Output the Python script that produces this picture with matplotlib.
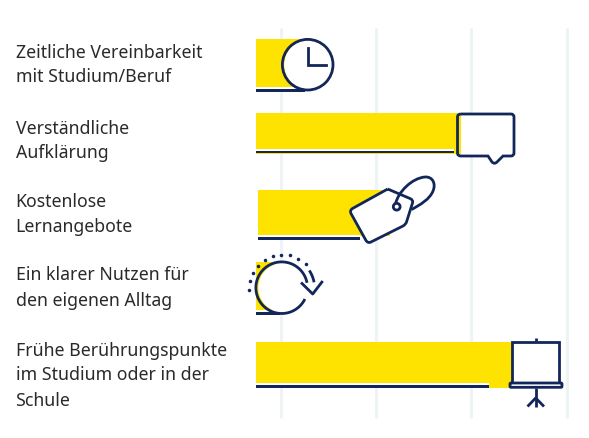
import numpy as np
import matplotlib
matplotlib.use('Agg')
import matplotlib.pyplot as plt
from matplotlib.path import Path
from matplotlib.patches import PathPatch, Circle, FancyBboxPatch, Rectangle

# Data
labels = ['Zeitliche Vereinbarkeit\nmit Studium/Beruf',
          'Verständliche\nAufklärung',
          'Kostenlose\nLernangebote',
          'Ein klarer Nutzen für\nden eigenen Alltag',
          'Frühe Berührungspunkte\nim Studium oder in der\nSchule']
bar_values = [9.3, 43.0, 27.7, 4.0, 53.7]
bar_starts = [0.0, 0.0, 0.4, 0.0, 0.0]
line_values = [10.3, 41.5, 21.4, 5.0, 48.9]
grid_values = [5.2, 25.2, 45.2, 65.2]

# Layout in pixels
W, H = 589, 438
X0 = 256
PX = 4.765
row_top = [39, 113, 189.5, 262, 342]
row_bot = [92, 154, 236, 315, 388]
row_line = [90.5, 152, 238.5, 313.5, 386.5]
label_y = [65, 141, 214.5, 288, 375.5]

YELLOW = '#FFE300'
NAVY = '#12265A'
GRID = '#EEF3F6'
TEXT = '#2A2A2A'
LW = 2.0

plt.rcParams['font.family'] = ['Noto Sans', 'DejaVu Sans']

fig = plt.figure(figsize=(W / 100, H / 100), dpi=100)
ax = fig.add_axes([0, 0, 1, 1])
ax.set_xlim(-X0 / PX, (W - X0) / PX)
ax.set_ylim(H, 0)
ax.axis('off')

# Grid
ax.vlines(grid_values, 28, 418, color=GRID, lw=2.2, zorder=1)

# Bars and the thin lines under them
for i in range(len(labels)):
    c = (row_top[i] + row_bot[i]) / 2
    ax.barh(c, bar_values[i], left=bar_starts[i], height=row_bot[i] - row_top[i],
            color=YELLOW, zorder=2)
    ax.barh(row_line[i] - 2, line_values[i], left=bar_starts[i], height=2.5,
            color='white', zorder=3)
    ax.barh(row_line[i], line_values[i], left=bar_starts[i], height=2.5,
            color=NAVY, zorder=3)
    ax.text(15.5 / PX - X0 / PX, label_y[i], labels[i], ha='left', va='center',
            fontsize=12.75, color=TEXT, linespacing=1.5, zorder=6)

# Icons, overlay in pixel coordinates
ic = fig.add_axes([0, 0, 1, 1], facecolor='none')
ic.set_xlim(0, W)
ic.set_ylim(H, 0)
ic.axis('off')


def stroke(xs, ys, z=6):
    ic.plot(xs, ys, color=NAVY, lw=LW, solid_capstyle='butt', solid_joinstyle='round', zorder=z)


# clock
ic.add_patch(Circle((309.2, 64.7), 25, fc='white', ec='none', zorder=4))
ic.add_patch(Circle((307.7, 64.7), 25.3, fc='none', ec=NAVY, lw=LW, zorder=5))
ic.plot([307.5, 307.5, 326], [48, 64.5, 64.5], color=NAVY, lw=LW, solid_joinstyle='miter', zorder=6)

# speech bubble
bub = [(461, 114), (511, 114), (514, 114), (514, 117), (514, 153), (514, 156), (511, 156),
       (503, 156), (497, 162), (494.5, 164.5), (492, 162), (488, 156), (461, 156), (457.5, 156),
       (457.5, 153), (457.5, 117), (457.5, 114), (461, 114)]
bub_codes = [Path.MOVETO, Path.LINETO, Path.CURVE3, Path.CURVE3, Path.LINETO, Path.CURVE3, Path.CURVE3,
             Path.LINETO, Path.LINETO, Path.CURVE3, Path.CURVE3, Path.LINETO, Path.LINETO, Path.CURVE3,
             Path.CURVE3, Path.LINETO, Path.CURVE3, Path.CURVE3]
ic.add_patch(Rectangle((461, 115), 52, 40, fc='white', ec='none', zorder=4))
ic.add_patch(PathPatch(Path(bub, bub_codes), fc='none', ec=NAVY, lw=LW, zorder=5))

# price tag
tag = [(387.7, 189), (410, 198.5), (413.5, 200), (412.5, 203), (406.5, 222), (405.7, 224.5), (403, 226),
       (371, 242), (368, 243.5), (366, 240.5), (351, 213.5), (349.5, 210.5), (352.5, 208.5), (387.7, 189)]
tag_codes = [Path.MOVETO, Path.LINETO, Path.CURVE3, Path.CURVE3, Path.LINETO, Path.CURVE3, Path.CURVE3,
             Path.LINETO, Path.CURVE3, Path.CURVE3, Path.LINETO, Path.CURVE3, Path.CURVE3, Path.LINETO]
ic.add_patch(PathPatch(Path(tag, tag_codes), fc='white', ec=NAVY, lw=LW, zorder=5))
ic.add_patch(Circle((396.7, 206.7), 3.4, fc='white', ec=NAVY, lw=LW, zorder=6))
loop = [(395.5, 204), (398, 192), (412, 178), (425, 177), (433, 176.5), (436, 184), (433, 191),
        (430, 199), (420, 205), (411.5, 209.5)]
loop_codes = [Path.MOVETO, Path.CURVE4, Path.CURVE4, Path.CURVE4, Path.CURVE4, Path.CURVE4, Path.CURVE4,
              Path.CURVE4, Path.CURVE4, Path.CURVE4]
ic.add_patch(PathPatch(Path(loop, loop_codes), fc='none', ec=NAVY, lw=LW, zorder=6))

# circular arrow
cx, cy, r = 281.7, 287.7, 25.8
ic.add_patch(Circle((cx + 1.5, cy), r - 1, fc='white', ec='none', zorder=4))
t = np.radians(np.linspace(26, 349, 120))
stroke(cx + r * np.cos(t), cy + r * np.sin(t))
stroke([301, 312.7, 322.7], [282.5, 294, 281])
t = np.radians(np.linspace(-33, -11, 20))
stroke(cx + 33.5 * np.cos(t) - 0.5, cy + 33.5 * np.sin(t) + 1)
dot_x = [249.3, 250, 253.3, 258, 264.7, 272.7, 281.3, 290.3, 298.3, 306]
dot_y = [290, 281.3, 273.3, 266, 260.3, 256.3, 254.7, 255.3, 258.7, 263.7]
ic.scatter(dot_x, dot_y, s=6.5, color=NAVY, linewidths=0, zorder=6)

# presentation screen
ic.add_patch(Rectangle((513.5, 343), 45, 39, fc='white', ec='none', zorder=4))
ic.add_patch(Rectangle((512, 341.5), 47.3, 41, fc='none', ec=NAVY, lw=LW, zorder=5))
ic.add_patch(FancyBboxPatch((510, 383), 52, 4.3, boxstyle='round,pad=0,rounding_size=1',
                            fc='white', ec=NAVY, lw=LW, zorder=5))
stroke([535.7, 535.7], [338, 341])
stroke([535.7, 535.7], [388, 406.5])
stroke([527.5, 535.7, 544], [406.5, 398, 406.5])

fig.savefig('out.png', dpi=100)
